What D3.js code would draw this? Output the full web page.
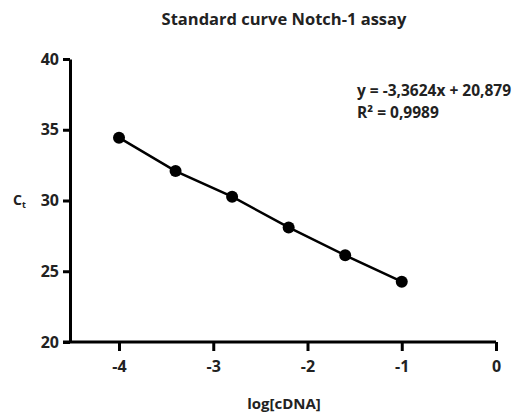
<!DOCTYPE html>
<meta charset="utf-8">
<head>
  <title>Standard curve Notch-1 assay</title>
</head>
<style>
body { margin: 0; background: #fff; }
text { font-family: "Open Sans", Lato, sans-serif; font-weight: bold; fill: #222; }
.axis path, .axis line { stroke: #000; stroke-width: 3px; }
</style>
<body>
<svg width="525" height="413"></svg>
<script src="https://cdnjs.cloudflare.com/ajax/libs/d3/7.8.5/d3.min.js"></script>
<script>
// data
var logCdna = [-4, -3.4, -2.8, -2.2, -1.6, -1];
var ct = [34.44, 32.08, 30.27, 28.1, 26.13, 24.26];
var xTicks = [-4, -3, -2, -1, 0];
var yTicks = [20, 25, 30, 35, 40];
var eqLines = ["y = -3,3624x + 20,879", "R\u00b2 = 0,9989"];

var svg = d3.select("svg");

var x = d3.scaleLinear().domain([-4.52, 0]).range([70, 496]);
var y = d3.scaleLinear().domain([20, 40]).range([342, 59]);

// title
svg.append("text")
  .attr("x", 284).attr("y", 25)
  .attr("text-anchor", "middle")
  .style("font-size", "16.5px")
  .text("Standard curve Notch-1 assay");

// y axis
var yAxis = svg.append("g").attr("class", "axis")
  .attr("transform", "translate(70,0)")
  .call(d3.axisLeft(y).tickValues(yTicks).tickFormat(function(d) { return String(d); })
    .tickSize(7).tickPadding(4).tickSizeOuter(0));
yAxis.selectAll("text").style("font-size", "16px").attr("fill", "#222");

// x axis
var xAxis = svg.append("g").attr("class", "axis")
  .attr("transform", "translate(0,342)")
  .call(d3.axisBottom(x).tickValues(xTicks).tickFormat(function(d) { return String(d); })
    .tickSize(9).tickPadding(10).tickSizeOuter(0));
xAxis.selectAll("text").style("font-size", "16px").attr("fill", "#222");
xAxis.select(".domain").attr("d", "M63,0H" + x(0));

// axis labels
svg.append("text")
  .attr("x", 284).attr("y", 409)
  .attr("text-anchor", "middle")
  .style("font-size", "15px")
  .text("log[cDNA]");

var ctLabel = svg.append("text")
  .attr("x", 13).attr("y", 205)
  .style("font-size", "14px");
ctLabel.append("tspan").text("C");
ctLabel.append("tspan").attr("dy", 3).style("font-size", "9px").text("t");

// line + points
var pts = logCdna.map(function(d, i) { return [d, ct[i]]; });

svg.append("path")
  .datum(pts)
  .attr("fill", "none")
  .attr("stroke", "#000")
  .attr("stroke-width", 2.5)
  .attr("d", d3.line().x(function(d) { return x(d[0]); }).y(function(d) { return y(d[1]); }));

svg.selectAll("circle.pt")
  .data(pts)
  .enter().append("circle")
  .attr("class", "pt")
  .attr("cx", function(d) { return x(d[0]); })
  .attr("cy", function(d) { return y(d[1]); })
  .attr("r", 6)
  .attr("fill", "#000");

// regression text
svg.selectAll("text.eq")
  .data(eqLines)
  .enter().append("text")
  .attr("class", "eq")
  .attr("x", 357)
  .attr("y", function(d, i) { return 96 + i * 22; })
  .style("font-size", "15.5px")
  .text(function(d) { return d; });
</script>
</body>
</html>
